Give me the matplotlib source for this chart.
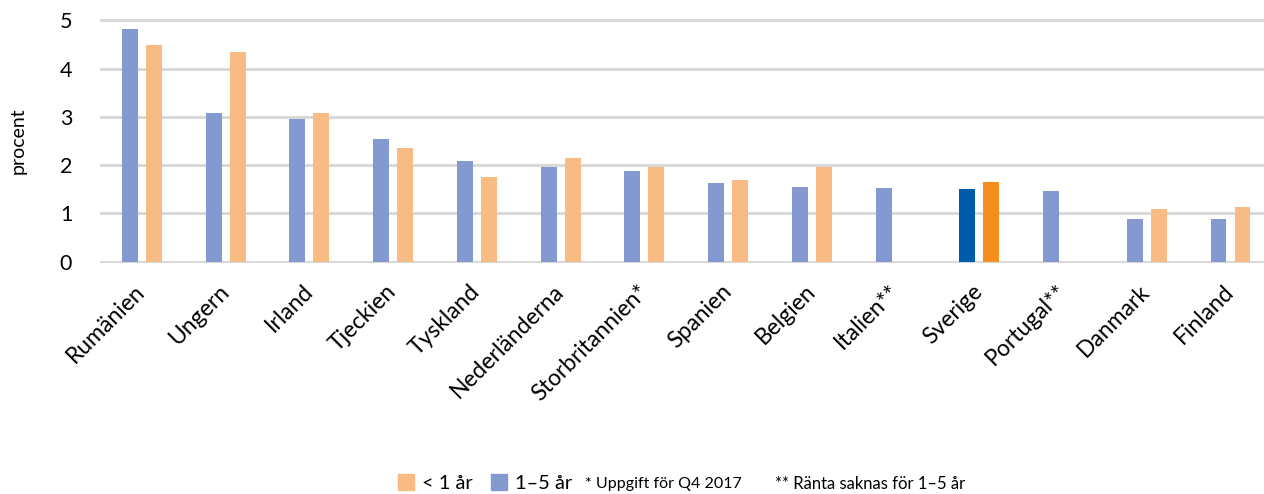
import numpy as np
import matplotlib.pyplot as plt
from matplotlib.patches import Patch

plt.rcParams['font.family'] = ['Lato', 'DejaVu Sans']

countries = ['Rumänien', 'Ungern', 'Irland', 'Tjeckien', 'Tyskland', 'Nederländerna',
             'Storbritannien*', 'Spanien', 'Belgien', 'Italien**', 'Sverige',
             'Portugal**', 'Danmark', 'Finland']
rate_1_5 = [4.82, 3.08, 2.95, 2.54, 2.09, 1.96, 1.88, 1.63, 1.55, 1.53, 1.51, 1.47, 0.88, 0.88]
rate_lt1 = [4.49, 4.34, 3.08, 2.35, 1.76, 2.15, 1.96, 1.69, 1.96, np.nan, 1.66, np.nan, 1.08, 1.14]
highlight = 'Sverige'

blue, orange = '#8499cf', '#f9bb84'
dark_blue, dark_orange = '#005aaa', '#f68d1f'

fig = plt.figure(figsize=(12.64, 4.94), dpi=100)
ax = fig.add_axes([100 / 1264, (494 - 263) / 494, 1 - 100 / 1264, 244 / 494])

x = np.arange(len(countries))
w = 0.19
off = 0.143
cb = [dark_blue if c == highlight else blue for c in countries]
co = [dark_orange if c == highlight else orange for c in countries]
ax.bar(x - off, rate_1_5, w, color=cb, zorder=3)
ax.bar(x + off, rate_lt1, w, color=co, zorder=3)

ax.set_xlim(-0.5, 13.4)
ax.set_ylim(-0.03, 5.03)
ax.set_yticks(range(6))
ax.yaxis.grid(True, color='#d9d9d9', linewidth=2.2, zorder=0)
for s in ax.spines.values():
    s.set_visible(False)
ax.tick_params(axis='both', length=0, labelsize=15.5)
ax.tick_params(axis='y', pad=20)
ax.set_xticks(x)
ax.set_xticklabels(countries, rotation=45, ha='right', va='center',
                   rotation_mode='anchor', fontsize=16.5)
ax.tick_params(axis='x', pad=18)
ax.set_ylabel('procent', fontsize=14, labelpad=24)

handles = [Patch(color=orange), Patch(color=blue)]
fig.legend(handles, ['< 1 år', '1–5 år'], loc='center left',
           bbox_to_anchor=(388 / 1264, 11 / 494), ncol=2, frameon=False,
           fontsize=14.5, handlelength=0.8, handleheight=0.8, handletextpad=0.4,
           columnspacing=0.9, borderpad=0)
fig.text(585 / 1264, 10 / 494, '* Uppgift för Q4 2017', fontsize=11.5, va='center')
fig.text(775 / 1264, 10 / 494, '** Ränta saknas för 1–5 år', fontsize=12, va='center')

fig.savefig('out.png', dpi=100)
